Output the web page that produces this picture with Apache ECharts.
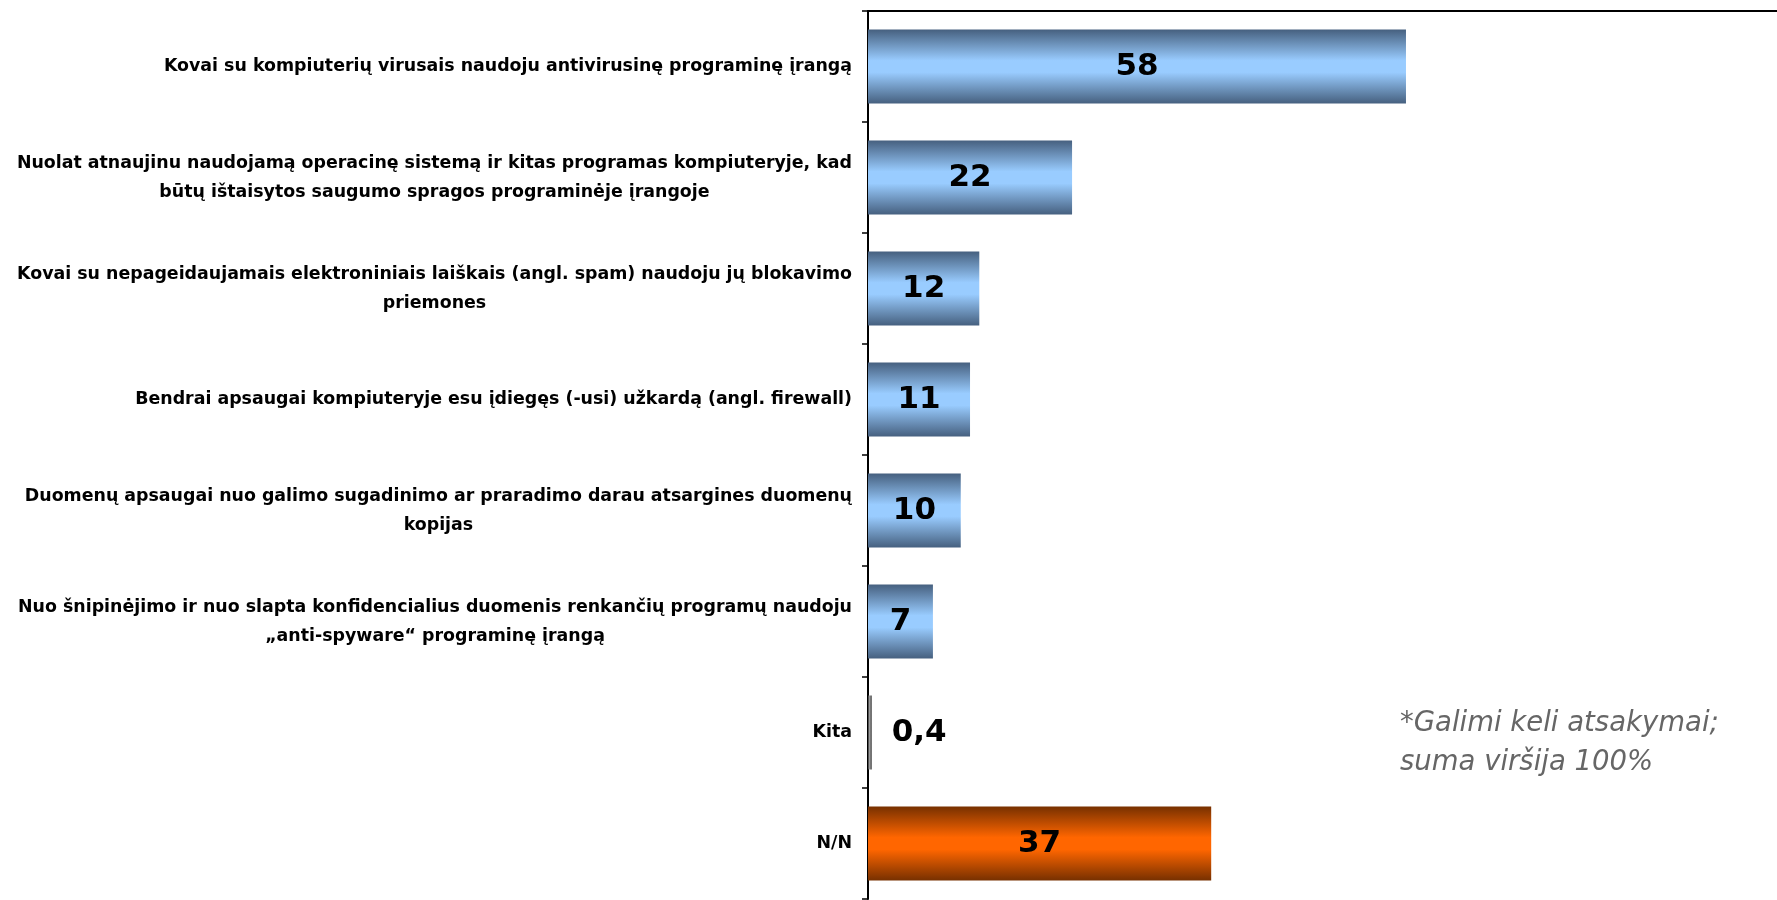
<!DOCTYPE html>
<html>
<head>
<meta charset="utf-8">
<script src="https://cdn.jsdelivr.net/npm/echarts@6/dist/echarts.min.js"></script>
<style>
  html, body { margin: 0; padding: 0; background: #ffffff; }
  #chart { width: 1777px; height: 900px; }
</style>
</head>
<body>
<div id="chart"></div>
<script>
// Survey answers (percent of respondents), top to bottom
const categories = [
  'Kovai su kompiuterių virusais naudoju antivirusinę programinę įrangą',
  'Nuolat atnaujinu naudojamą operacinę sistemą ir kitas programas kompiuteryje, kad\nbūtų ištaisytos saugumo spragos programinėje įrangoje',
  'Kovai su nepageidaujamais elektroniniais laiškais (angl. spam) naudoju jų blokavimo\npriemones',
  'Bendrai apsaugai kompiuteryje esu įdiegęs (-usi) užkardą (angl. firewall)',
  'Duomenų apsaugai nuo galimo sugadinimo ar praradimo darau atsargines duomenų\nkopijas',
  'Nuo šnipinėjimo ir nuo slapta konfidencialius duomenis renkančių programų naudoju\n„anti-spyware“ programinę įrangą',
  'Kita',
  'N/N'
];
const values = [58, 22, 12, 11, 10, 7, 0.4, 37];
const footnoteLines = ['*Galimi keli atsakymai;', 'suma viršija 100%'];

const OTHER = 'Kita';
const NO_ANSWER = 'N/N';

function vGradient(edge, mid) {
  return new echarts.graphic.LinearGradient(0, 0, 0, 1, [
    { offset: 0, color: edge },
    { offset: 0.42, color: mid },
    { offset: 0.58, color: mid },
    { offset: 1, color: edge }
  ]);
}

const blueFill = vGradient('#46607f', '#99ccff');
const orangeFill = vGradient('#773000', '#ff6600');
const grayFill = new echarts.graphic.LinearGradient(0, 0, 1, 0, [
  { offset: 0, color: '#2e2e2e' },
  { offset: 0.45, color: '#a8a8a8' },
  { offset: 1, color: '#2e2e2e' }
]);

const barData = values.map((v, i) => {
  const name = categories[i];
  const item = { value: v, itemStyle: { color: blueFill } };
  if (name === NO_ANSWER) item.itemStyle.color = orangeFill;
  if (name === OTHER) {
    item.itemStyle.color = grayFill;
    item.label = { position: 'right', distance: 20 };
  }
  return item;
});

const labelFont = "'DejaVu Sans', sans-serif";

const chart = echarts.init(document.getElementById('chart'), null, { renderer: 'canvas' });
chart.setOption({
  backgroundColor: '#ffffff',
  animation: false,
  grid: { left: 868, right: 0, top: 11, bottom: 1, containLabel: false },
  xAxis: {
    type: 'value',
    position: 'top',
    min: 0,
    max: 98,
    axisLine: { show: true, lineStyle: { color: '#000000', width: 2 } },
    axisTick: { show: false },
    axisLabel: { show: false },
    splitLine: { show: false }
  },
  yAxis: {
    type: 'category',
    inverse: true,
    data: categories,
    axisLine: { show: true, lineStyle: { color: '#000000', width: 2 } },
    axisTick: { show: true, length: 6, lineStyle: { color: '#000000', width: 1.5 } },
    axisLabel: {
      margin: 16,
      formatter: (val) => val.split('\n').map(s => '{c|' + s + '}').join('\n'),
      rich: {
        c: {
          align: 'center',
          fontFamily: labelFont,
          fontWeight: 'bold',
          fontSize: 17.4,
          lineHeight: 29,
          color: '#000000'
        }
      }
    }
  },
  series: [{
    type: 'bar',
    data: barData,
    barWidth: 74,
    label: {
      show: true,
      position: 'inside',
      formatter: (p) => String(p.value).replace('.', ','),
      fontFamily: labelFont,
      fontWeight: 'bold',
      fontSize: 31,
      color: '#000000'
    }
  }],
  graphic: [{
    type: 'text',
    left: 1400,
    top: 704,
    style: {
      text: footnoteLines.join('\n'),
      fontFamily: "'DejaVu Sans', sans-serif",
      fontStyle: 'italic',
      fontSize: 27.5,
      lineHeight: 39,
      fill: '#666666'
    }
  }]
});
</script>
</body>
</html>
